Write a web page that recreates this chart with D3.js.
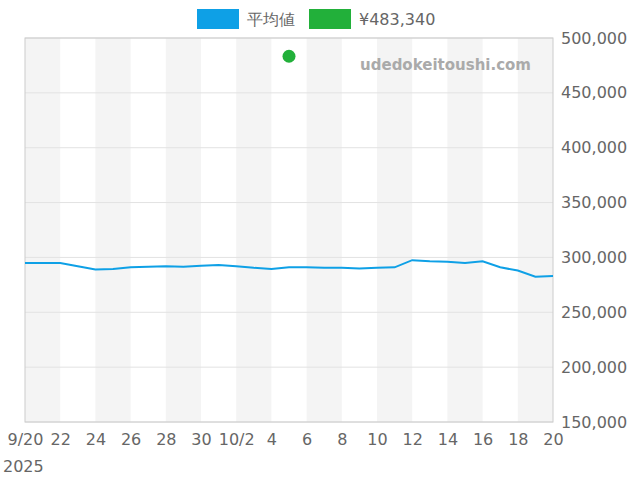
<!DOCTYPE html><html><head><meta charset="utf-8"><script src="https://cdn.jsdelivr.net/npm/d3@7"></script>
<style>body{margin:0;background:#fff}text{font-family:"DejaVu Sans",sans-serif}</style></head><body><svg id="c" width="640" height="480"></svg><script>
const startDate="2025-09-20";
const avgValues=[295000,295000,295000,292000,289000,289500,291000,291500,292000,291500,292500,293000,292000,290500,289500,291000,291000,290500,290500,290000,290500,291000,297500,296500,296000,295000,296500,291000,288000,282500,283000];
const pointDate="2025-10-05", pointValue=483340;
const xTickLabels=["9/20","22","24","26","28","30","10/2","4","6","8","10","12","14","16","18","20"];
const yTicks=[150000,200000,250000,300000,350000,400000,450000,500000];
const legendLabels=["平均値","¥483,340"];
const svg=d3.select("#c");
const L=25,R=553,T=38,B=422;
const p=d3.timeParse("%Y-%m-%d");
const d0=p(startDate);
const dates=avgValues.map((v,i)=>d3.timeDay.offset(d0,i));
const x=d3.scaleTime().domain([d0,dates[dates.length-1]]).range([L,R]);
const y=d3.scaleLinear().domain([150000,500000]).range([B,T]);
for(let i=0;i<30;i+=4){svg.append("rect").attr("x",x(dates[i])).attr("y",T).attr("width",x(dates[i+2])-x(dates[i])).attr("height",B-T).attr("fill","#f4f4f4");}
yTicks.forEach(t=>svg.append("line").attr("x1",L).attr("x2",R).attr("y1",y(t)).attr("y2",y(t)).attr("stroke","#e2e2e2"));
svg.append("rect").attr("x",L).attr("y",T).attr("width",R-L).attr("height",B-T).attr("fill","none").attr("stroke","#ccc");
const tickDates=xTickLabels.map((l,i)=>dates[i*2]);
const xa=svg.append("g").attr("transform",`translate(0,${B})`).call(d3.axisBottom(x).tickValues(tickDates).tickFormat((d,i)=>xTickLabels[i]).tickSize(0).tickPadding(12));
xa.select(".domain").remove();xa.selectAll("text").attr("font-size",16).attr("fill","#666");
svg.append("text").attr("x",3).attr("y",472).attr("font-size",16).attr("fill","#666").text("2025");
const ya=svg.append("g").attr("transform",`translate(${R},0)`).call(d3.axisRight(y).tickValues(yTicks).tickFormat(d3.format(",")).tickSize(0).tickPadding(8));
ya.select(".domain").remove();ya.selectAll("text").attr("font-size",16).attr("fill","#666");
svg.append("text").attr("x",531).attr("y",70).attr("text-anchor","end").attr("font-size",15).attr("font-weight","bold").attr("fill","#aaa").text("udedokeitoushi.com");
svg.append("path").datum(avgValues).attr("fill","none").attr("stroke","#0ea0e6").attr("stroke-width",2).attr("d",d3.line().x((d,i)=>x(dates[i])).y(d=>y(d)));
svg.append("circle").attr("cx",x(p(pointDate))).attr("cy",y(pointValue)).attr("r",6.5).attr("fill","#22b03a");
const cols=["#0ea0e6","#22b03a"],lx=[197,309];
legendLabels.forEach((l,i)=>{svg.append("rect").attr("x",lx[i]).attr("y",9).attr("width",42).attr("height",20).attr("fill",cols[i]);
svg.append("text").attr("x",lx[i]+50).attr("y",25).attr("font-size",16).attr("fill","#666").text(l);});
</script></body></html>
